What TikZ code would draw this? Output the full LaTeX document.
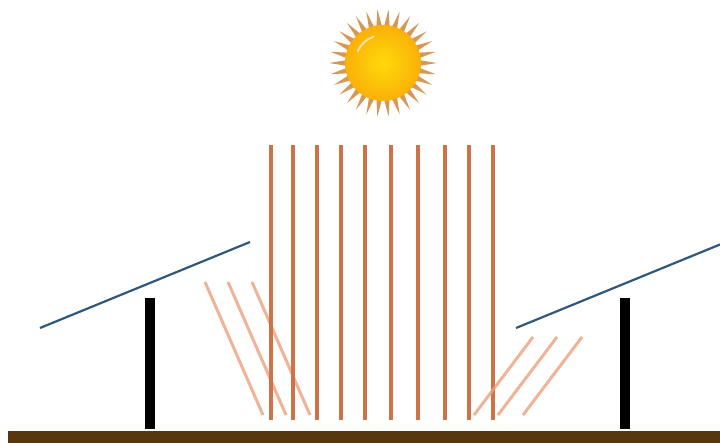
\documentclass[tikz,border=0pt]{standalone}
\usepackage{tikz}
\definecolor{myorange}{RGB}{206,114,72}
\definecolor{myorange2}{RGB}{236,160,124}
\definecolor{myblue}{RGB}{48,88,124}
\definecolor{mybrown}{RGB}{88,54,14}
\definecolor{myyellow}{RGB}{255,218,10}
\definecolor{mysun}{RGB}{250,176,8}
\definecolor{myspike}{RGB}{214,152,84}

\begin{document}
\begin{tikzpicture}[x=1pt,y=-1pt,
  beam/.style={myorange,line width=4.2pt},
  reflected/.style={myorange2,line width=3pt,opacity=0.8},
  panel/.style={myblue,line width=2.2pt}]
  \useasboundingbox (0,0) rectangle (720,443);

  % Sun spikes
  \foreach \a in {0,12,...,348}
    \fill[myspike,shift={(383,63)}] (\a:54) -- (\a+5:35) -- (\a-5:35) -- cycle;

  % Sun disk with highlight
  \shade[inner color=myyellow, outer color=mysun] (383,63) circle (38);
  \draw[white,opacity=0.6,line width=2pt,line cap=round,shift={(383,63)}] (205:28) arc[start angle=205, end angle=250, radius=28];

  % Reflected rays (left panel)
  \foreach \x in {205,228,252}
    \draw[reflected] (\x,282) -- (\x+58,415);

  % Incoming vertical rays
  \foreach \x in {271,293,317,341,365,391,418,445,469,493}
    \draw[beam] (\x,145) -- (\x,420);

  % Reflected rays (right panel)
  \foreach \x in {533,557,582}
    \draw[reflected] (\x,337) -- (\x-59,415);

  % Panels
  \draw[panel] (40,328) -- (250,242);
  \draw[panel] (516,328) -- (720,244.5);

  % Posts
  \fill[black] (145,298) rectangle (155,429);
  \fill[black] (620,298) rectangle (630,429);

  % Ground
  \fill[mybrown] (8,431) rectangle (720,443);

\end{tikzpicture}
\end{document}
